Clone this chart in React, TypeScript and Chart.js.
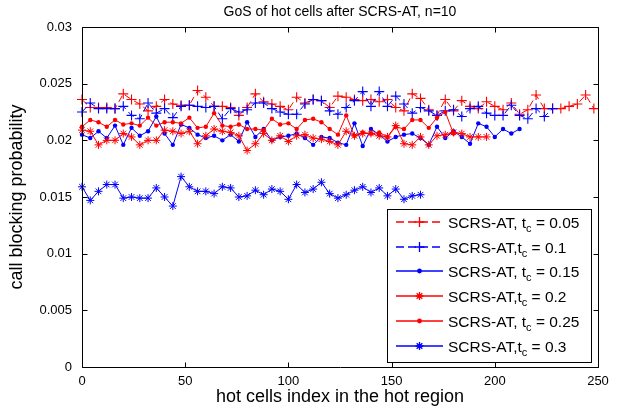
import React, { useEffect, useRef } from 'react';
import { Chart, registerables } from 'chart.js';

Chart.register(...registerables);

// ---- data ----
const cellIndexStep = 4; // hot cell index spacing between samples

const tc005 = [
  0.0236, 0.0229, 0.0229, 0.0229, 0.0228, 0.0241, 0.0236, 0.0232, 0.0226, 0.0230, 0.0236, 0.0232, 0.0231, 0.0231, 0.0244, 0.0238,
  0.0230, 0.0230, 0.0229, 0.0222, 0.0229, 0.0241, 0.0234, 0.0232, 0.0230, 0.0227, 0.0238, 0.0233, 0.0236, 0.0235, 0.0229, 0.0239,
  0.0238, 0.0236, 0.0235, 0.0236, 0.0234, 0.0236, 0.0229, 0.0226, 0.0241, 0.0237, 0.0227, 0.0222, 0.0236, 0.0226, 0.0235, 0.0230,
  0.0228, 0.0234, 0.0230, 0.0227, 0.0233, 0.0223, 0.0227, 0.0240, 0.0228, 0.0228, 0.0228, 0.0230, 0.0232, 0.0240, 0.0228,
];
const tc01 = [
  0.0225, 0.0233, 0.0228, 0.0228, 0.0228, 0.0230, 0.0222, 0.0219, 0.0233, 0.0224, 0.0228, 0.0220, 0.0230, 0.0231, 0.0230, 0.0229,
  0.0230, 0.0219, 0.0228, 0.0225, 0.0227, 0.0233, 0.0233, 0.0228, 0.0225, 0.0223, 0.0223, 0.0232, 0.0236, 0.0235, 0.0226, 0.0223,
  0.0229, 0.0235, 0.0243, 0.0230, 0.0243, 0.0230, 0.0239, 0.0232, 0.0224, 0.0229, 0.0226, 0.0222, 0.0226, 0.0227, 0.0221, 0.0228,
  0.0230, 0.0224, 0.0222, 0.0222, 0.0231, 0.0222, 0.0219, 0.0228, 0.0221, 0.0228,
];
const tc015 = [
  0.0205, 0.0202, 0.0208, 0.0202, 0.0213, 0.0196, 0.0211, 0.0204, 0.0208, 0.0221, 0.0206, 0.0196, 0.0214, 0.0211, 0.0205, 0.0202,
  0.0204, 0.0200, 0.0205, 0.0199, 0.0216, 0.0203, 0.0210, 0.0200, 0.0203, 0.0204, 0.0206, 0.0202, 0.0196, 0.0203, 0.0202, 0.0198,
  0.0196, 0.0215, 0.0195, 0.0210, 0.0205, 0.0199, 0.0203, 0.0205, 0.0206, 0.0202, 0.0196, 0.0212, 0.0202, 0.0208, 0.0203, 0.0197,
  0.0215, 0.0212, 0.0203, 0.0210, 0.0206, 0.0210,
];
const tc02 = [
  0.0209, 0.0208, 0.0196, 0.0200, 0.0200, 0.0206, 0.0203, 0.0196, 0.0200, 0.0200, 0.0209, 0.0208, 0.0206, 0.0208, 0.0197, 0.0204,
  0.0210, 0.0208, 0.0207, 0.0204, 0.0191, 0.0197, 0.0206, 0.0200, 0.0204, 0.0199, 0.0204, 0.0205, 0.0202, 0.0201, 0.0199, 0.0196,
  0.0208, 0.0204, 0.0206, 0.0206, 0.0204, 0.0203, 0.0213, 0.0197, 0.0196, 0.0203, 0.0196, 0.0204, 0.0205, 0.0207, 0.0206, 0.0203,
  0.0203, 0.0203,
];
const tc025 = [
  0.0212, 0.0218, 0.0216, 0.0212, 0.0218, 0.0214, 0.0215, 0.0213, 0.0220, 0.0213, 0.0216, 0.0216, 0.0215, 0.0220, 0.0211, 0.0212,
  0.0224, 0.0213, 0.0212, 0.0214, 0.0210, 0.0210, 0.0209, 0.0219, 0.0214, 0.0215, 0.0210, 0.0218, 0.0219, 0.0216, 0.0210, 0.0205,
  0.0222, 0.0204, 0.0207, 0.0206, 0.0207, 0.0203, 0.0212, 0.0210, 0.0218, 0.0218, 0.0211, 0.0220, 0.0225, 0.0206,
];
const tc03 = [
  0.0159, 0.0147, 0.0155, 0.0161, 0.0161, 0.0149, 0.0150, 0.0149, 0.0149, 0.0158, 0.0150, 0.0142, 0.0168, 0.0159, 0.0155, 0.0155,
  0.0153, 0.0159, 0.0158, 0.0150, 0.0151, 0.0156, 0.0152, 0.0157, 0.0155, 0.0148, 0.0161, 0.0154, 0.0157, 0.0163, 0.0153, 0.0149,
  0.0152, 0.0156, 0.0159, 0.0154, 0.0158, 0.0151, 0.0157, 0.0148, 0.0151, 0.0152,
];

const legendPrefixes = ['SCRS-AT, t', 'SCRS-AT,t', 'SCRS-AT, t', 'SCRS-AT,t', 'SCRS-AT, t', 'SCRS-AT,t'];
const legendSub = 'c';
const legendValues = ['0.05', '0.1', '0.15', '0.2', '0.25', '0.3'];

const xTickValues = [0, 50, 100, 150, 200, 250];
const xTickLabels = ['0', '50', '100', '150', '200', '250'];
const yTickValues = [0, 0.005, 0.01, 0.015, 0.02, 0.025, 0.03];
const yTickLabels = ['0', '0.005', '0.01', '0.015', '0.02', '0.025', '0.03'];

const titleText = 'GoS of hot cells after SCRS-AT, n=10';
const xTitleText = 'hot cells index in the hot region';
const yTitleText = 'call blocking probability';

// ---- styles ----
const RED = '#ff0000';
const BLUE = '#0000ff';
const FONT = '"Liberation Sans", Arial, Helvetica, sans-serif';

type Marker = 'cross' | 'star' | 'dot';
type SeriesStyle = { color: string; dashed: boolean; marker: Marker };
const seriesValues = [tc005, tc01, tc015, tc02, tc025, tc03];
const seriesStyles: SeriesStyle[] = [
  { color: RED, dashed: true, marker: 'cross' },
  { color: BLUE, dashed: true, marker: 'cross' },
  { color: BLUE, dashed: false, marker: 'dot' },
  { color: RED, dashed: false, marker: 'star' },
  { color: RED, dashed: false, marker: 'dot' },
  { color: BLUE, dashed: false, marker: 'star' },
];

function markerProps(m: Marker, color: string) {
  if (m === 'cross') return { pointStyle: 'cross', pointRadius: 5, pointBorderWidth: 1.1, pointBorderColor: color, pointBackgroundColor: color };
  if (m === 'star') return { pointStyle: 'star', pointRadius: 4, pointBorderWidth: 1, pointBorderColor: color, pointBackgroundColor: color };
  return { pointStyle: 'circle', pointRadius: 2.2, pointBorderWidth: 0, pointBorderColor: color, pointBackgroundColor: color };
}

function drawMarker(ctx: CanvasRenderingContext2D, m: Marker, color: string, x: number, y: number) {
  ctx.setLineDash([]);
  ctx.lineWidth = 1.3;
  if (m === 'cross') {
    const r = 5;
    ctx.beginPath();
    ctx.moveTo(x - r, y); ctx.lineTo(x + r, y);
    ctx.moveTo(x, y - r); ctx.lineTo(x, y + r);
    ctx.strokeStyle = color;
    ctx.stroke();
  } else if (m === 'star') {
    const r = 4;
    const d = r * Math.SQRT1_2;
    ctx.beginPath();
    ctx.moveTo(x - r, y); ctx.lineTo(x + r, y);
    ctx.moveTo(x, y - r); ctx.lineTo(x, y + r);
    ctx.moveTo(x - d, y - d); ctx.lineTo(x + d, y + d);
    ctx.moveTo(x - d, y + d); ctx.lineTo(x + d, y - d);
    ctx.strokeStyle = color;
    ctx.stroke();
  } else {
    ctx.beginPath();
    ctx.arc(x, y, 2.4, 0, Math.PI * 2);
    ctx.fillStyle = color;
    ctx.fill();
  }
}

const framePlugin = {
  id: 'matlabFrame',
  afterDatasetsDraw(chart: any) {
    const { ctx, chartArea: a, scales } = chart;
    const L = Math.round(a.left) + 0.5;
    const R = Math.round(a.right) + 0.5;
    const T = Math.round(a.top) + 0.5;
    const B = Math.round(a.bottom) + 0.5;
    const tl = 5;
    ctx.save();
    ctx.setLineDash([]);
    ctx.lineWidth = 1;
    ctx.beginPath();
    ctx.rect(L, T, R - L, B - T);
    xTickValues.forEach((v) => {
      const px = Math.round(scales.x.getPixelForValue(v)) + 0.5;
      ctx.moveTo(px, B); ctx.lineTo(px, B - tl);
      ctx.moveTo(px, T); ctx.lineTo(px, T + tl);
    });
    yTickValues.forEach((v) => {
      const py = Math.round(scales.y.getPixelForValue(v)) + 0.5;
      ctx.moveTo(L, py); ctx.lineTo(L + tl, py);
      ctx.moveTo(R, py); ctx.lineTo(R - tl, py);
    });
    ctx.strokeStyle = '#000000';
    ctx.stroke();
    // title centred over the axes
    ctx.fillStyle = '#000000';
    ctx.font = `14px ${FONT}`;
    ctx.textAlign = 'center';
    ctx.textBaseline = 'middle';
    ctx.fillText(titleText, (a.left + a.right) / 2, 12);
    ctx.restore();
  },
};

const legendPlugin = {
  id: 'matlabLegend',
  afterDraw(chart: any) {
    const { ctx } = chart;
    const box = { left: 387.5, top: 209.5, right: 591.5, bottom: 362.5 };
    ctx.save();
    ctx.setLineDash([]);
    ctx.fillStyle = '#ffffff';
    ctx.fillRect(box.left, box.top, box.right - box.left, box.bottom - box.top);
    ctx.lineWidth = 1;
    ctx.strokeStyle = '#000000';
    ctx.strokeRect(box.left, box.top, box.right - box.left, box.bottom - box.top);
    const rowH = 24.7;
    const firstY = 222;
    const mainFont = `15.5px ${FONT}`;
    const subFont = `11px ${FONT}`;
    seriesStyles.forEach((s, i) => {
      const yy = Math.round(firstY + i * rowH);
      ctx.lineWidth = 1.6;
      ctx.setLineDash(s.dashed ? [8, 4] : []);
      ctx.beginPath();
      ctx.moveTo(396, yy);
      ctx.lineTo(443, yy);
      ctx.strokeStyle = s.color;
      ctx.stroke();
      drawMarker(ctx, s.marker, s.color, 419.5, yy);
      ctx.fillStyle = '#000000';
      ctx.textAlign = 'left';
      ctx.textBaseline = 'alphabetic';
      let tx = 448;
      const base = yy + 5.5;
      ctx.font = mainFont;
      ctx.fillText(legendPrefixes[i], tx, base);
      tx += ctx.measureText(legendPrefixes[i]).width;
      ctx.font = subFont;
      ctx.fillText(legendSub, tx, base + 4);
      tx += ctx.measureText(legendSub).width;
      ctx.font = mainFont;
      ctx.fillText(' = ' + legendValues[i], tx, base);
    });
    ctx.restore();
  },
};

export default function App() {
  const canvasRef = useRef<HTMLCanvasElement | null>(null);

  useEffect(() => {
    if (!canvasRef.current) return;
    const datasets = seriesValues.map((vals, i) => {
      const s = seriesStyles[i];
      return {
        label: legendPrefixes[i] + legendSub + ' = ' + legendValues[i],
        data: vals.map((v, k) => ({ x: k * cellIndexStep, y: v })),
        borderColor: s.color,
        backgroundColor: s.color,
        borderWidth: 1,
        borderDash: s.dashed ? [7, 4] : [],
        tension: 0,
        fill: false,
        clip: 6,
        order: 6 - i,
        ...markerProps(s.marker, s.color),
      };
    });

    const chart = new Chart(canvasRef.current, {
      type: 'line',
      data: { datasets },
      plugins: [framePlugin, legendPlugin],
      options: {
        animation: false,
        responsive: false,
        maintainAspectRatio: false,
        layout: { padding: { left: 0, right: 26, top: 27, bottom: 0 } },
        plugins: {
          legend: { display: false },
          tooltip: { enabled: false },
          title: { display: false },
        },
        scales: {
          x: {
            type: 'linear',
            min: 0,
            max: 250,
            grid: { display: false, drawTicks: false },
            border: { display: false },
            afterBuildTicks: (s: any) => { s.ticks = xTickValues.map((v) => ({ value: v })); },
            afterFit: (s: any) => { s.height = 49; },
            ticks: {
              padding: 7,
              color: '#000',
              font: { family: FONT, size: 13 },
              maxRotation: 0,
              autoSkip: false,
              callback: (_v: any, i: number) => xTickLabels[i],
            },
            title: {
              display: true,
              text: xTitleText,
              color: '#000',
              font: { family: FONT, size: 18, lineHeight: 1.2 },
              padding: { top: 0, bottom: 8 },
            },
          },
          y: {
            type: 'linear',
            min: 0,
            max: 0.03,
            grid: { display: false, drawTicks: false },
            border: { display: false },
            afterBuildTicks: (s: any) => { s.ticks = yTickValues.map((v) => ({ value: v })); },
            afterFit: (s: any) => { s.width = 82; },
            ticks: {
              padding: 10,
              color: '#000',
              font: { family: FONT, size: 13 },
              autoSkip: false,
              callback: (_v: any, i: number) => yTickLabels[i],
            },
            title: {
              display: true,
              text: yTitleText,
              color: '#000',
              font: { family: FONT, size: 18, lineHeight: 1.2 },
              padding: { top: 6, bottom: 0 },
            },
          },
        },
      } as any,
    });
    return () => chart.destroy();
  }, []);

  return (
    <div style={{ position: 'absolute', left: 0, top: 0, width: 624, height: 416, background: '#fff' }}>
      <canvas ref={canvasRef} width={624} height={416} style={{ display: 'block', width: 624, height: 416 }} />
    </div>
  );
}
